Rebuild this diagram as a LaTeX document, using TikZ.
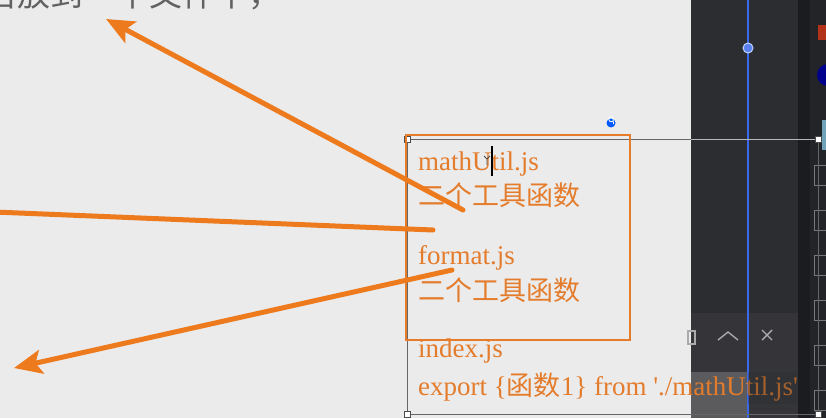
\documentclass[tikz,border=0pt]{standalone}
\usepackage{fontspec}
\setmainfont{Liberation Serif}
\newfontfamily\cjk{Noto Sans CJK SC}
\usepackage{xcolor}
\usetikzlibrary{arrows.meta, positioning}

\definecolor{slidebg}{RGB}{235,235,235}
\definecolor{codeorange}{RGB}{228,124,44}
\definecolor{arroworange}{RGB}{238,122,30}
\definecolor{panel}{RGB}{44,45,49}
\definecolor{paneldark}{RGB}{27,28,32}
\definecolor{guideblue}{RGB}{58,105,235}

\begin{document}
\begin{tikzpicture}[x=1pt, y=-1pt]
\tikzstyle{code} = [anchor=base west, inner sep=0pt, text=codeorange, font=\fontsize{27}{32}\selectfont]
\tikzstyle{arrow} = [line width=5pt, draw=arroworange, line cap=round, -{Stealth[length=28pt, width=24pt, inset=6pt]}]
\tikzstyle{handle} = [draw=black!70, fill=white, line width=0.6pt, minimum size=6pt, inner sep=0pt]
\tikzstyle{icon} = [draw=white!60!panel, line width=1.4pt]

\clip (0,0) rectangle (826,418);
\fill[slidebg] (0,0) rectangle (826,418);

% editor panel on the right
\fill[panel] (691,0) rectangle (826,418);
\fill[paneldark] (798,0) rectangle (810,418);
\fill[panel!80!black] (810,0) rectangle (826,418);
\fill[red!50!brown!80!black] (818,25) rectangle (826,40);
\fill[blue!55!black] (828,75) circle (11);
\fill[cyan!40!gray] (822,120) rectangle (826,150);
\foreach \y in {175,220,265,310,355,400}
  \draw[white!35!panel, line width=1pt] (814,\y-10) rectangle (830,\y+10);
\draw[white!15!panel, line width=0.8pt] (691,313) -- (798,313);
\fill[white!4!panel] (691,313) rectangle (798,418);
\fill[white!22!panel] (691,372) rectangle (747,418);
\draw[icon] (718,340) -- (728,332) -- (738,340);
\draw[icon] (762,330) -- (772,340) (772,330) -- (762,340);
\draw[icon] (688,331) rectangle (695,344);

% guide line
\draw[guideblue, line width=2pt] (748,0) -- (748,418);
\node (guidedot) [circle, fill=guideblue!85!white, draw=white!70!guideblue, line width=1pt, minimum size=10pt, inner sep=0pt] at (748,48) {};

% heading, cut off at the top
\node (heading) [anchor=base west, inner sep=0pt, text=black!62, font=\cjk\fontsize{33}{36}\selectfont] at (-16,6) {自放到一个文件中，};

% text box
\draw[black!60, line width=0.8pt] (407,139) rectangle (818,414);
\draw[white!65!panel, line width=0.8pt] (691,139) -- (818,139);
\node (h1) [handle] at (407,139) {};
\node (h2) [handle] at (407,414) {};
\node (h3) [handle] at (818,139) {};
\node (h4) [handle] at (818,414) {};
\draw[codeorange, line width=2pt] (406,135) rectangle (630,340);
\node (gicon) [circle, fill=blue!65!cyan, minimum size=9pt, inner sep=0pt] at (611,123) {};
\draw[white, line width=0.8pt] (613,121) arc (45:315:2.5) -- (613.5,124);

\node (mathutil) [code] at (418,170) {mathUtil.js};
\node (mathfuncs) [code] at (418,205) {\cjk 二个工具函数};
\node (format) [code] at (418,264) {format.js};
\node (formatfuncs) [code] at (418,300) {\cjk 二个工具函数};
\node (index) [code] at (418,357) {index.js};
\node (export) [code] at (418,395) {export \{{\cjk 函数}1\} from \textquotesingle./mathUtil.js\textquotesingle};
% panel fades the end of the line
\fill[panel, opacity=0.35] (748,372) rectangle (798,404);

% text cursor and mouse pointer
\draw[black, line width=2pt] (492,146) -- (492,176);
\draw[black!70, line width=0.8pt] (484,156) -- (487,159) -- (490,156) (487,159) -- (487,165);

% arrows
\coordinate (fromfuncs) at (463,210);
\coordinate (toheading) at (106,19);
\coordinate (fromgap) at (433,230);
\coordinate (toleft) at (-30,211);
\coordinate (fromformat) at (452,270);
\coordinate (tobottom) at (14,368);

\draw [arrow] (fromfuncs) -- (toheading);
\draw [arrow] (fromgap) -- (toleft);
\draw [arrow] (fromformat) -- (tobottom);
\end{tikzpicture}
\end{document}
